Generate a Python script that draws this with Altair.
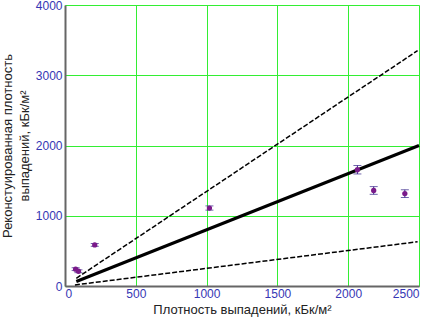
import altair as alt
import pandas as pd

# measured points
meas_x = [75, 95, 210, 1020, 2065, 2180, 2400]
meas_y = [240, 210, 585, 1110, 1655, 1360, 1315]
meas_err = [20, 20, 20, 30, 60, 55, 55]

# reference lines (endpoints)
solid_x = [80, 2500]
solid_y = [64, 2000]
upper_x = [80, 2490]
upper_y = [110, 3350]
lower_x = [70, 2490]
lower_y = [15, 630]

x_ticks = [0, 500, 1000, 1500, 2000, 2500]
y_ticks = [0, 1000, 2000, 3000, 4000]

pts = pd.DataFrame({"x": meas_x, "y": meas_y,
                    "lo": [y - e for y, e in zip(meas_y, meas_err)],
                    "hi": [y + e for y, e in zip(meas_y, meas_err)]})
lines = pd.DataFrame({
    "x": solid_x + upper_x + lower_x,
    "y": solid_y + upper_y + lower_y,
    "s": ["solid"] * 2 + ["upper"] * 2 + ["lower"] * 2,
})

FONT = "Liberation Sans"
xs = alt.Scale(domain=[0, 2500], nice=False, zero=False)
ys = alt.Scale(domain=[0, 4000], nice=False, zero=False)

xenc = alt.X("x:Q", scale=xs, axis=alt.Axis(
    values=x_ticks, title="Плотность выпадений, кБк/м²", grid=True,
    gridColor="#33ee33", gridWidth=1, gridOpacity=1,
    domainColor="#666666", domainWidth=2, ticks=False,
    labelColor="#3636b4", labelFont=FONT, labelFontSize=12, labelPadding=2,
    titleFont=FONT, titleFontSize=13, titleFontWeight="normal",
    titleColor="#222222", titlePadding=4, format="d"))
yenc = alt.Y("y:Q", scale=ys, axis=alt.Axis(
    values=y_ticks, title=["Реконстуированная плотность", "выпадений, кБк/м²"],
    grid=True, gridColor="#33ee33", gridWidth=1, gridOpacity=1,
    domainColor="#666666", domainWidth=2, ticks=False,
    labelColor="#3636b4", labelFont=FONT, labelFontSize=12, labelPadding=3,
    titleFont=FONT, titleFontSize=13, titleFontWeight="normal",
    titleColor="#222222", titlePadding=4, titleLineHeight=17, format="d"))

solid = alt.Chart(lines).transform_filter(alt.datum.s == "solid").mark_line(
    color="black", strokeWidth=3).encode(x=xenc, y=yenc)
dashed = alt.Chart(lines).transform_filter(alt.datum.s != "solid").mark_line(
    color="black", strokeWidth=1.5, strokeDash=[5, 2]).encode(
    x=alt.X("x:Q", scale=xs), y=alt.Y("y:Q", scale=ys), detail="s:N")

err = alt.Chart(pts).mark_rule(color="#332288", strokeWidth=1).encode(
    x=alt.X("x:Q", scale=xs), y=alt.Y("lo:Q", scale=ys), y2="hi:Q")
cap_lo = alt.Chart(pts).mark_tick(color="#332288", orient="horizontal",
                                  size=8, thickness=1).encode(
    x=alt.X("x:Q", scale=xs), y=alt.Y("lo:Q", scale=ys))
cap_hi = alt.Chart(pts).mark_tick(color="#332288", orient="horizontal",
                                  size=8, thickness=1).encode(
    x=alt.X("x:Q", scale=xs), y=alt.Y("hi:Q", scale=ys))
dots = alt.Chart(pts).mark_circle(color="#7a1a8a", size=28, opacity=1).encode(
    x=alt.X("x:Q", scale=xs), y=alt.Y("y:Q", scale=ys))

chart = alt.layer(solid, dashed, err, cap_lo, cap_hi, dots).properties(
    width=354, height=281,
    autosize=alt.AutoSizeParams(type="none"),
    padding={"left": 65, "top": 5, "right": 16, "bottom": 32},
).configure_view(stroke="#1a8a1a", strokeWidth=2).configure(background="white")

chart.save("out.html", embed_options={"renderer": "svg", "actions": False})
